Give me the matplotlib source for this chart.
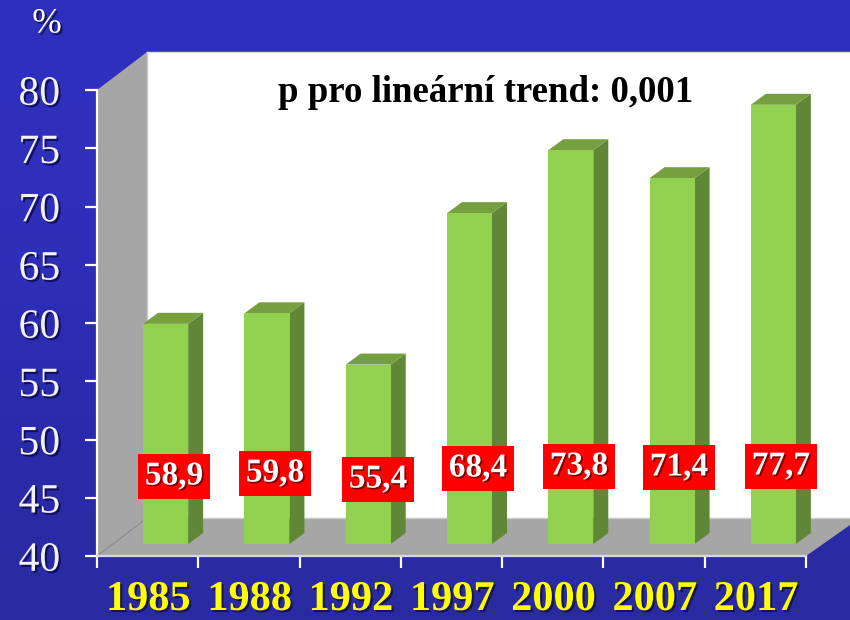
import numpy as np
import matplotlib
matplotlib.use("Agg")
import matplotlib.pyplot as plt
import matplotlib.patheffects as pe
from matplotlib.transforms import ScaledTranslation, Affine2D
from matplotlib.colors import LinearSegmentedColormap

years = ["1985", "1988", "1992", "1997", "2000", "2007", "2017"]
values = [58.9, 59.8, 55.4, 68.4, 73.8, 71.4, 77.7]
value_labels = ["58,9", "59,8", "55,4", "68,4", "73,8", "71,4", "77,7"]
y_ticks = [40, 45, 50, 55, 60, 65, 70, 75, 80]
note = "p pro lineární trend: 0,001"

W, H = 850, 620
SERIF = "Liberation Serif"
fig = plt.figure(figsize=(W / 100, H / 100), dpi=100)

# background gradient
bg = fig.add_axes([0, 0, 1, 1], zorder=0)
bg.axis("off")
cmap = LinearSegmentedColormap.from_list("b", ["#2F2FBE", "#2F2FBC", "#2B2BAC", "#2A2AA0"])
bg.imshow(np.linspace(0, 1, 256)[:, None], aspect="auto", cmap=cmap, extent=(0, 1, 0, 1))

# main axes: the front plane of the pseudo-3D chart
L, R, T, B = 97, 806, 90, 556
ax = fig.add_axes([L / W, 1 - B / H, (R - L) / W, (B - T) / H], zorder=1)
ax.patch.set_alpha(0)
ax.set_xlim(-0.5, 6.5)
ax.set_ylim(40, 80)

px = Affine2D().scale(1, -1).translate(0, H)  # pixel coords, y down


def off(dx, dy):
    """Data transform shifted by dx px right and dy px up."""
    return ax.transData + ScaledTranslation(dx / 100, dy / 100, fig.dpi_scale_trans)


# walls and floor
DX, DY = 50, 38
GRAY = "#A6A6A6"
ax.add_patch(plt.Polygon([(L + DX, B - DY), (W + 10, B - DY), (W + 10, T - DY), (L + DX, T - DY)],
                         transform=px, fc="white", ec="none", zorder=1, clip_on=False))
ax.add_patch(plt.Polygon([(L, B), (L + DX, B - DY), (W + 10, B - DY), (R, B)],
                         transform=px, fc=GRAY, ec="none", zorder=2, clip_on=False))
ax.add_patch(plt.Polygon([(L, B), (L + DX, B - DY), (L + DX, T - DY), (L, T)],
                         transform=px, fc=GRAY, ec="none", zorder=2, clip_on=False))
ax.plot([L, L + DX], [B, B - DY], transform=px, color="#8C8C8C", lw=0.8, zorder=3, clip_on=False)
ax.plot([L + DX, L + DX], [B - DY, T - DY], transform=px, color="#C8C8C8", lw=1, zorder=3, clip_on=False)
ax.plot([L + DX, W], [B - DY, B - DY], transform=px, color="#C8C8C8", lw=1, zorder=3, clip_on=False)
ax.plot([L + DX, W], [T - DY, T - DY], transform=px, color="#DDDDDD", lw=1, zorder=3, clip_on=False)

# bars: front faces come from the data; side and top faces follow them
x = np.arange(len(years))
BW = 45 / ((R - L) / 7)
OX, OY = 18, 12   # shift of the bar front plane
SX, SY = 15, 11   # bar depth
FRONT, SIDE, TOP = "#92D050", "#5F8735", "#769F3F"
ax.bar(x, np.array(values) - 40, BW, bottom=40, color=FRONT, transform=off(OX, OY),
       zorder=5, clip_on=False)
for xi, v in zip(x, values):
    l = ax.transData.transform((xi - BW / 2, v))
    p0 = (l[0] + OX, H - l[1] - OY)
    w = 45
    ax.add_patch(plt.Polygon([(p0[0] + w, p0[1]), (p0[0] + w + SX, p0[1] - SY),
                              (p0[0] + w + SX, B - OY - SY), (p0[0] + w, B - OY)],
                             transform=px, fc=SIDE, ec="none", zorder=4, clip_on=False))
    ax.add_patch(plt.Polygon([p0, (p0[0] + SX, p0[1] - SY), (p0[0] + w + SX, p0[1] - SY),
                              (p0[0] + w, p0[1])],
                             transform=px, fc=TOP, ec="none", zorder=4, clip_on=False))

# axes styling
for s in ("top", "right"):
    ax.spines[s].set_visible(False)
for s in ("left", "bottom"):
    ax.spines[s].set_color("white")
    ax.spines[s].set_linewidth(1.6)
    ax.spines[s].set_zorder(6)
ax.spines["bottom"].set_color("#D8D8E8")

ax.set_yticks(y_ticks)
ax.set_xticks(np.arange(0, 8) - 0.5)
ax.set_xticklabels([])
ax.tick_params(axis="y", length=8.5, width=1.6, color="white", labelcolor="#F2F2FA",
               labelsize=30, pad=18)
ax.tick_params(axis="x", length=8.5, width=1.6, color="white")
for lab in ax.get_yticklabels():
    lab.set_fontfamily(SERIF)
    lab.set_path_effects([pe.withSimplePatchShadow(offset=(1.5, -1.5), shadow_rgbFace="#0C0C50", alpha=0.9)])

# x category labels
for xi, y in zip(x, years):
    t = ax.annotate(y, (xi, 40), xytext=(0.5, -44 * 0.72), textcoords="offset points",
                    ha="center", va="center", color="#FFFF00", fontsize=30.5,
                    fontweight="bold", family=SERIF, annotation_clip=False, zorder=7)
    t.set_path_effects([pe.withSimplePatchShadow(offset=(1.5, -1.5), shadow_rgbFace="#101040", alpha=0.8)])

# value boxes
label_x = [174, 275, 378, 478, 579, 679, 781]
label_y = [476, 473, 479, 468, 466, 467, 466]
for lx, ly, s in zip(label_x, label_y, value_labels):
    ax.add_patch(plt.Rectangle((lx - 36, ly - 22.5), 72, 45, transform=px, fc="#FF0000", ec="none",
                               zorder=8, clip_on=False))
    t = ax.text(lx, ly, s, transform=px, ha="center", va="center", color="white", fontsize=24,
                fontweight="bold", family=SERIF, zorder=9, clip_on=False)
    t.set_path_effects([pe.withSimplePatchShadow(offset=(1.2, -1.2), shadow_rgbFace="#700000", alpha=0.9)])

# note and unit
ax.text(486, 92, note, transform=px, ha="center", va="center", color="black", fontsize=26.6,
        fontweight="bold", family=SERIF, zorder=9, clip_on=False)
t = ax.text(47, 24, "%", transform=px, ha="center", va="center", color="white", fontsize=25.5,
            family=SERIF, zorder=9, clip_on=False)
t.set_path_effects([pe.withSimplePatchShadow(offset=(1.5, -1.5), shadow_rgbFace="#101050", alpha=0.9)])

fig.savefig("out.png", dpi=100)
